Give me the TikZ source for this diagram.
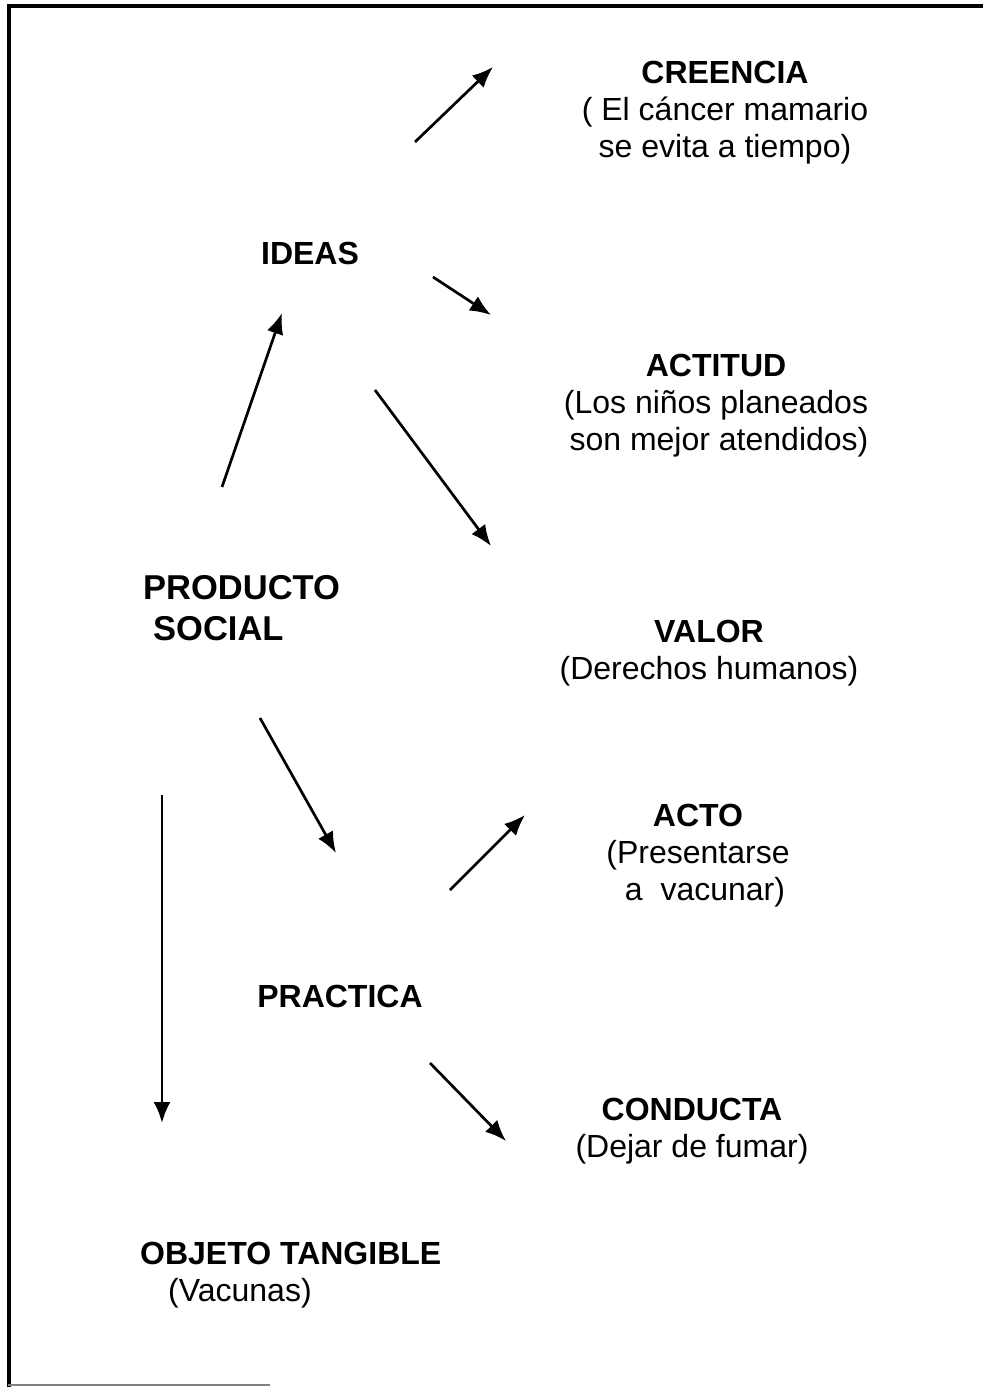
\documentclass[tikz,border=0pt]{standalone}
\usepackage{fontspec}
\setmainfont{Liberation Sans}
\usetikzlibrary{arrows.meta}
\begin{document}
\begin{tikzpicture}[x=1pt,y=-1pt,
  lbl/.style={inner sep=0pt, anchor=north, align=center, font=\fontsize{32}{37}\selectfont},
  lbll/.style={inner sep=0pt, anchor=north west, align=left, font=\fontsize{32}{37}\selectfont},
  arr/.style={line width=2.7pt, -{Latex[length=21pt,width=17pt]}}]
\useasboundingbox (0,0) rectangle (983,1387);
% frame
\draw[line width=4pt] (983,6) -- (9,6) -- (9,1387);
\draw[line width=1.2pt, gray] (8,1385) -- (270,1385);
% labels
\node[lbl] (creencia) at (725,61) {\textbf{CREENCIA}\\( El cáncer mamario\\se evita a tiempo)};
\node[lbl] (ideas) at (310,242) {\textbf{IDEAS}};
\node[lbl] (actitud) at (716,354) {\textbf{ACTITUD}\\(Los niños planeados\\\hspace{6pt}son mejor atendidos)};
\node[lbll, font=\fontsize{34.5}{41}\selectfont] (producto) at (143,575) {\textbf{PRODUCTO}\\\hspace{10pt}\textbf{SOCIAL}};
\node[lbl] (valor) at (709,620) {\textbf{VALOR}\\(Derechos humanos)};
\node[lbl] (acto) at (698,804) {\textbf{ACTO}\\(Presentarse\\\hspace{14pt}a\ \ vacunar)};
\node[lbl] (practica) at (340,985) {\textbf{PRACTICA}};
\node[lbl] (conducta) at (692,1098) {\textbf{CONDUCTA}\\(Dejar de fumar)};
\node[lbll] (objeto) at (140,1242) {\textbf{OBJETO TANGIBLE}\\\hspace{28pt}(Vacunas)};
% arrow endpoints
\coordinate (c1a) at (415,142); \coordinate (c1b) at (493,67);
\coordinate (c2a) at (433,277); \coordinate (c2b) at (491,315);
\coordinate (c3a) at (375,390); \coordinate (c3b) at (491,546);
\coordinate (c4a) at (222,487); \coordinate (c4b) at (282,313);
\coordinate (c5a) at (260,718); \coordinate (c5b) at (336,853);
\coordinate (c6a) at (162,795); \coordinate (c6b) at (162,1123);
\coordinate (c7a) at (450,890); \coordinate (c7b) at (525,815);
\coordinate (c8a) at (430,1063); \coordinate (c8b) at (506,1141);
\draw[arr] (c1a) -- (c1b);
\draw[arr] (c2a) -- (c2b);
\draw[arr] (c3a) -- (c3b);
\draw[arr] (c4a) -- (c4b);
\draw[arr] (c5a) -- (c5b);
\draw[arr] (c6a) -- (c6b);
\draw[arr] (c7a) -- (c7b);
\draw[arr] (c8a) -- (c8b);
\end{tikzpicture}
\end{document}
